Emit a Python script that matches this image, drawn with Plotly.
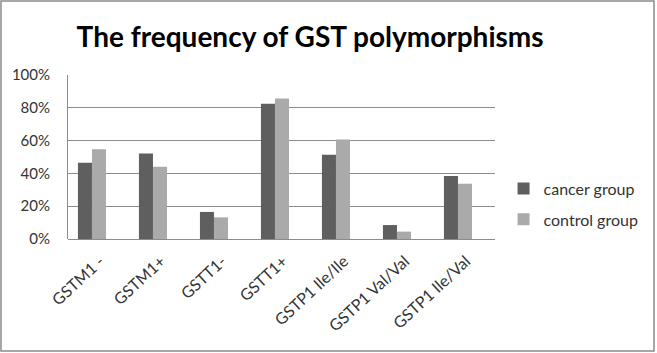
import plotly.graph_objects as go

categories = ["GSTM1 -", "GSTM1+", "GSTT1-", "GSTT1+", "GSTP1 Ile/Ile", "GSTP1 Val/Val", "GSTP1 Ile/Val"]
cancer_group = [0.465, 0.522, 0.165, 0.825, 0.514, 0.085, 0.384]
control_group = [0.547, 0.441, 0.132, 0.856, 0.606, 0.045, 0.337]
y_ticks = [0, 0.2, 0.4, 0.6, 0.8, 1.0]
y_tick_labels = ["0%", "20%", "40%", "60%", "80%", "100%"]

FONT = "Lato, Calibri, Carlito, 'Open Sans', sans-serif"

fig = go.Figure()
fig.add_trace(go.Bar(x=categories, y=cancer_group, name="cancer group", legendgroup="a",
                     marker=dict(color="#5f5f5f", line=dict(width=0))))
fig.add_trace(go.Bar(x=categories, y=control_group, name="control group", legendgroup="b",
                     marker=dict(color="#aaaaaa", line=dict(width=0))))

fig.update_layout(
    width=657, height=353,
    margin=dict(l=68, r=162, t=75, b=114),
    paper_bgcolor="white", plot_bgcolor="white",
    barmode="group", bargap=0.54, bargroupgap=0,
    font=dict(family=FONT, color="#333333"),
    title=dict(text="<b>The frequency of GST polymorphisms</b>",
               x=0.567, xref="paper", xanchor="center",
               y=1 - 37 / 353, yref="container", yanchor="middle",
               font=dict(size=28, color="#000000", family=FONT)),
    legend=dict(x=1.02, xanchor="left", y=0.213, yanchor="middle",
                font=dict(size=16, color="#333333"), itemwidth=30,
                tracegroupgap=7, bgcolor="rgba(0,0,0,0)"),
    showlegend=True,
    xaxis=dict(tickangle=-43, tickfont=dict(size=16, color="#333333"),
               range=[-0.393, 6.607], ticklabelstandoff=9, ticklabelshift=8,
               showline=False, ticks="", showgrid=False),
    yaxis=dict(range=[0, 1.0], tickvals=y_ticks, ticktext=y_tick_labels,
               tickfont=dict(size=15, color="#333333"),
               showgrid=True, gridcolor="#8c8c8c", gridwidth=1,
               showline=True, linecolor="#8c8c8c", linewidth=1,
               ticks="", ticklabelstandoff=14, zeroline=True,
               zerolinecolor="#8c8c8c", zerolinewidth=1),
    shapes=[dict(type="rect", xref="paper", yref="paper",
                 x0=-67 / 427, x1=1 + 159 / 427, y0=-112 / 164, y1=1 + 74 / 164,
                 line=dict(color="#8a8a8a", width=1.5), fillcolor="rgba(0,0,0,0)")],
)

fig.write_html("out.html", config={"displayModeBar": False},
               post_script="document.body.style.margin='0';document.body.style.overflow='hidden';")
